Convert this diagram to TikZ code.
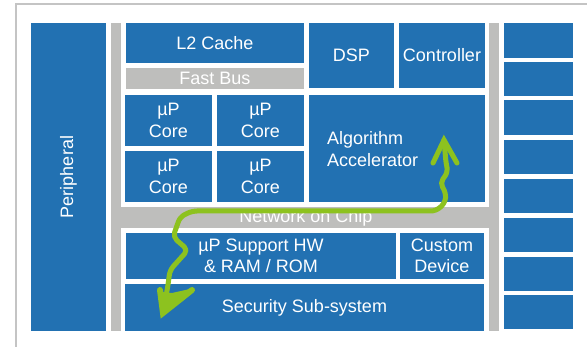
\documentclass[tikz,border=0pt]{standalone}
\usepackage{fontspec}
\setmainfont{Liberation Sans}
\definecolor{blu}{RGB}{34,113,178}
\definecolor{gry}{RGB}{190,190,188}
\definecolor{frm}{RGB}{196,196,196}
\definecolor{grn}{RGB}{141,194,31}
\tikzset{
  blk/.style={fill=blu, draw=none, inner sep=0pt, outer sep=0pt, anchor=north west,
    text=white, align=center, font=\fontsize{18}{21.5}\selectfont},
  bar/.style={fill=gry, draw=none, inner sep=0pt, outer sep=0pt, anchor=north west,
    text=white, align=center, font=\fontsize{18}{21.5}\selectfont},
  txt/.style={inner sep=0pt, outer sep=0pt, text=white, align=center, font=\fontsize{18}{21.5}\selectfont},
  gline/.style={draw=grn, line width=5pt, line cap=round, line join=round},
}
\newcommand{\blkbox}[7]{\node[#1, minimum width={(#5-#3)*1pt}, minimum height={(#6-#4)*1pt}] (#2) at (#3,#4) {#7};}
\begin{document}
\begin{tikzpicture}[x=1pt,y=-1pt]
\useasboundingbox[fill=white] (0,0) rectangle (587,347);
% outer frame
\draw[frm, line width=2pt] (16,348) -- (16,4.5) -- (588,4.5);
% gray bars
\blkbox{bar}{lbar}{111}{23}{121}{331}{}
\blkbox{bar}{rbar}{489}{23}{499}{331}{}
\blkbox{bar}{noc}{121}{207}{489}{228}{}
\node[txt] (noct) at (306,218) {Network on Chip};
\blkbox{bar}{fbus}{126}{68}{304}{89}{Fast Bus}
% blue blocks
\blkbox{blk}{periph}{31}{23}{106}{331}{}
\node[txt, rotate=90] (periphT) at (periph.center) {Peripheral};
\blkbox{blk}{l2}{126}{23}{304}{63}{L2 Cache}
\blkbox{blk}{dsp}{309}{23}{394}{88}{DSP}
\blkbox{blk}{ctrl}{399}{23}{485}{88}{Controller}
\blkbox{blk}{core1}{125}{95}{212}{146}{µP\\Core}
\blkbox{blk}{core2}{217}{95}{304}{146}{µP\\Core}
\blkbox{blk}{core3}{125}{151}{212}{202}{µP\\Core}
\blkbox{blk}{core4}{217}{151}{304}{202}{µP\\Core}
\blkbox{blk}{accel}{309}{95}{485}{202}{}
\node[txt, anchor=west, align=left] (accelT) at (327,149) {Algorithm\\Accelerator};
\blkbox{blk}{support}{126}{233}{396}{279}{µP Support HW\\\& RAM / ROM}
\blkbox{blk}{custom}{400}{233}{484}{279}{Custom\\Device}
\blkbox{blk}{security}{125}{284}{484}{331}{Security Sub-system}
% right column
\blkbox{blk}{r1}{504}{23}{573}{58}{}
\blkbox{blk}{r2}{504}{62}{573}{96}{}
\blkbox{blk}{r3}{504}{100}{573}{135}{}
\blkbox{blk}{r4}{504}{140}{573}{174}{}
\blkbox{blk}{r5}{504}{179}{573}{213}{}
\blkbox{blk}{r6}{504}{218}{573}{252}{}
\blkbox{blk}{r7}{504}{257}{573}{291}{}
\blkbox{blk}{r8}{504}{295}{573}{329}{}
% green path
\coordinate (gtop) at (444,140);
\coordinate (gbot) at (163,313);
\draw[gline, line join=miter] (433,163) -- (gtop) -- (457,163);
\draw[gline, rounded corners=5pt] (gtop) -- (446,163) -- (448,172) -- (440,183) -- (446,193) -- (445,203) -- (436,211) -- (192,211) -- (180,217) -- (173,237) -- (188,250) -- (170,270) -- (168,285) -- (gbot);
\fill[grn] (161,292) -- (gbot) -- (190,289) -- (172,293) -- cycle;
\draw[gline, line width=6pt, line join=miter] (160,290) -- (gbot) -- (192,290);
\end{tikzpicture}
\end{document}
